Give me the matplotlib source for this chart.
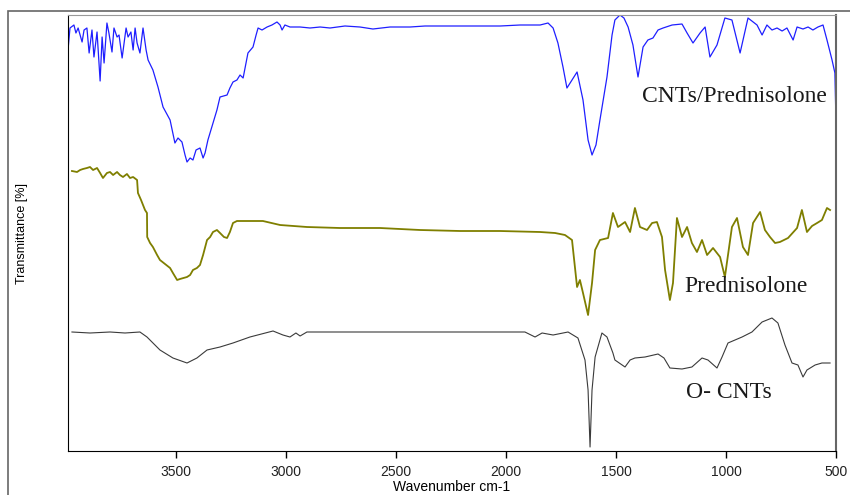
import matplotlib
matplotlib.use("Agg")
import matplotlib.pyplot as plt
from matplotlib.patches import Rectangle

# CNTs/Prednisolone (blue, top trace)
cnt_pred_wn = [3991, 3982, 3964, 3955, 3945, 3927, 3918, 3905, 3895, 3882, 3873, 3859, 3845,
               3836, 3827, 3814, 3805, 3791, 3782, 3768, 3759, 3745, 3736, 3727, 3718, 3705,
               3695, 3686, 3677, 3664, 3650, 3636, 3627, 3605, 3582, 3559, 3527, 3505, 3491,
               3473, 3459, 3450, 3436, 3423, 3409, 3391, 3377, 3368, 3355, 3332, 3314, 3300,
               3268, 3255, 3241, 3223, 3209, 3195, 3186, 3173, 3150, 3136, 3127, 3109, 3086,
               3064, 3041, 3027, 3018, 3005, 2982, 2936, 2891, 2845, 2800, 2732, 2664, 2605,
               2527, 2436, 2368, 2255, 2118, 2027, 1936, 1845, 1809, 1786, 1764, 1741, 1723,
               1700, 1677, 1650, 1627, 1609, 1591, 1573, 1541, 1518, 1505, 1482, 1464, 1445,
               1423, 1400, 1377, 1355, 1332, 1309, 1286, 1245, 1200, 1177, 1150, 1118, 1095,
               1073, 1041, 1005, 973, 936, 900, 859, 836, 814, 791, 768, 745, 723, 695, 677,
               650, 627, 605, 582, 559, 541, 518, 505, 500]
cnt_pred_t = [401, 423, 426, 418, 423, 409, 421, 423, 398, 421, 394, 419, 370,
              414, 388, 428, 418, 399, 423, 414, 416, 393, 408, 423, 414, 419,
              401, 423, 408, 398, 423, 401, 391, 381, 364, 344, 331, 308, 313,
              309, 296, 289, 293, 291, 301, 303, 293, 298, 311, 328, 341, 354,
              356, 363, 369, 371, 376, 373, 383, 398, 404, 416, 423, 421, 424,
              426, 429, 426, 421, 426, 424, 424, 423, 424, 423, 425, 424, 422,
              424, 424, 425, 425, 425, 425, 426, 426, 428, 423, 408, 384, 363,
              371, 379, 351, 311, 296, 306, 331, 374, 416, 431, 436, 433, 424,
              406, 374, 404, 411, 413, 421, 423, 426, 427, 418, 408, 418, 424,
              394, 406, 433, 431, 398, 433, 426, 416, 426, 421, 423, 420, 423, 411, 424,
              422, 424, 421, 424, 426, 411, 391, 378, 329]

# Prednisolone (olive, middle trace)
pred_wn = [3973, 3950, 3936, 3923, 3905, 3891, 3877, 3859, 3845, 3832, 3814, 3800, 3786,
           3768, 3755, 3741, 3723, 3709, 3695, 3677, 3673, 3659, 3641, 3632, 3631, 3618,
           3605, 3586, 3573, 3550, 3527, 3514, 3495, 3482, 3450, 3436, 3423, 3405, 3391,
           3377, 3359, 3345, 3332, 3314, 3300, 3282, 3268, 3255, 3241, 3223, 3177, 3105,
           3027, 2905, 2755, 2573, 2391, 2209, 2027, 1845, 1777, 1732, 1700, 1677, 1664,
           1650, 1627, 1609, 1595, 1573, 1536, 1514, 1491, 1459, 1436, 1414, 1391, 1359,
           1336, 1314, 1291, 1277, 1255, 1241, 1223, 1200, 1177, 1155, 1132, 1109, 1086,
           1059, 1027, 1005, 973, 950, 923, 900, 877, 845, 823, 800, 777, 755, 718, 677,
           655, 632, 609, 586, 564, 541, 527]
pred_t = [280, 279, 281, 282, 283, 284, 281, 283, 278, 273, 278, 279, 276,
          279, 276, 274, 277, 273, 274, 271, 258, 251, 241, 238, 214, 208,
          204, 196, 191, 187, 183, 178, 171, 172, 174, 176, 181, 183, 186,
          196, 211, 214, 219, 221, 218, 214, 213, 219, 228, 230, 230, 230,
          226, 224, 223, 223, 221, 220, 220, 219, 218, 216, 211, 164, 171,
          158, 136, 168, 201, 211, 213, 238, 224, 229, 219, 243, 224, 221,
          228, 229, 214, 181, 151, 168, 233, 214, 224, 208, 199, 211, 196,
          203, 194, 174, 224, 233, 204, 196, 228, 239, 221, 214, 208, 209, 213, 223,
          241, 219, 225, 228, 231, 243, 241]

# O- CNTs (grey, bottom trace)
ocnt_wn = [3973, 3891, 3800, 3732, 3664, 3632, 3573, 3514, 3450, 3405, 3359, 3300, 3241,
           3164, 3059, 3014, 2982, 2955, 2936, 2905, 2800, 2573, 2368, 2118, 1914, 1868,
           1836, 1786, 1718, 1673, 1641, 1627, 1618, 1609, 1595, 1564, 1541, 1514, 1505,
           1459, 1436, 1414, 1368, 1309, 1282, 1255, 1200, 1155, 1109, 1082, 1041, 1018,
           991, 927, 882, 836, 791, 764, 732, 700, 673, 650, 632, 595, 564, 527]
ocnt_t = [119, 118, 119, 118, 119, 114, 101, 93, 88, 93, 101, 104, 108,
          114, 120, 116, 114, 118, 115, 119, 119, 119, 119, 119, 119, 114,
          118, 116, 119, 113, 91, 61, 4, 61, 94, 118, 114, 98, 91,
          84, 91, 93, 94, 97, 93, 83, 82, 84, 93, 91, 83, 94,
          108, 114, 119, 129, 133, 128, 106, 88, 86, 74, 81, 86, 88, 88]

x_ticks = [3500, 3000, 2500, 2000, 1500, 1000, 500]

fig = plt.figure(figsize=(8.5, 4.95), dpi=100)
ax = fig.add_axes([68 / 850, 44 / 495, 768 / 850, 436 / 495])

ax.plot(cnt_pred_wn, cnt_pred_t, color='#1f1fff', linewidth=0.9)
ax.plot(pred_wn, pred_t, color='#7f7f00', linewidth=1.3)
ax.plot(ocnt_wn, ocnt_t, color='#3a3a3a', linewidth=0.8)

label_font = dict(family='Liberation Serif', fontsize=17, color='#1a1a1a',
                  va='center', ha='left')
ax.text(1380, 354, 'CNTs/Prednisolone', **label_font)
ax.text(1188, 164, 'Prednisolone', **label_font)
ax.text(1180, 58, 'O- CNTs', **label_font)

ax.set_xlim(3991, 500)
ax.set_ylim(0, 436)
ax.set_xticks(x_ticks)
ax.set_xticklabels([str(t) for t in x_ticks], family='Liberation Sans', fontsize=10,
                   color='#222222')
ax.set_yticks([])
ax.tick_params(axis='x', direction='out', length=5, width=1, pad=5)
ax.set_xlabel('Wavenumber cm-1', family='Liberation Sans', fontsize=10, labelpad=1)
ax.set_ylabel('Transmittance [%]', family='Liberation Sans', fontsize=9, labelpad=29)

ax.spines['left'].set_color('black')
ax.spines['bottom'].set_color('black')
ax.spines['top'].set_color('#999999')
ax.spines['top'].set_linewidth(0.8)
ax.spines['right'].set_color('#666666')
ax.spines['right'].set_linewidth(1.5)

# outer frame of the original figure
frame = Rectangle((8 / 850, -0.05), 1.0, 0.05 + 484 / 495, transform=fig.transFigure,
                  fill=False, edgecolor='#666666', linewidth=1.2)
fig.patches.append(frame)

fig.savefig('out.png', dpi=100, facecolor='white')
